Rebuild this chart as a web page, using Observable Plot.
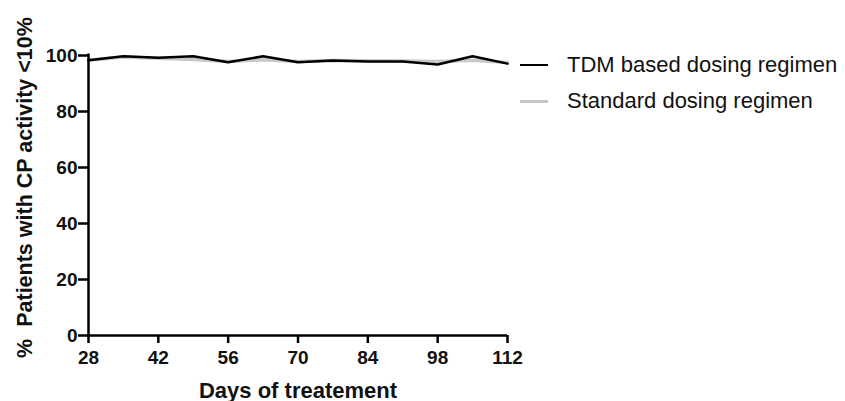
<!DOCTYPE html>
<html>
<head>
<meta charset="utf-8">
<script src="https://cdn.jsdelivr.net/npm/d3@7"></script>
<script src="https://cdn.jsdelivr.net/npm/@observablehq/plot@0.6"></script>
<style>
  html, body { margin: 0; padding: 0; background: #fff; }
  #wrap { position: relative; width: 845px; height: 401px; font-family: "Liberation Sans", Arial, sans-serif; }
  .legend { position: absolute; left: 520px; display: flex; align-items: center; font-size: 22px; color: #111; white-space: nowrap; }
  .sw { width: 28px; height: 0; margin-right: 19px; }
</style>
</head>
<body>
<div id="wrap"></div>
<script>
const days = [28, 35, 42, 49, 56, 63, 70, 77, 84, 91, 98, 105, 112];
const tdm = [98.3, 99.7, 99.2, 99.7, 97.6, 99.7, 97.6, 98.2, 97.9, 97.9, 96.8, 99.7, 97.1];
const standard = [98.3, 99.5, 99.0, 98.6, 97.9, 98.5, 97.9, 98.2, 98.1, 98.0, 97.9, 98.3, 97.5];
const seriesNames = ["TDM based dosing regimen", "Standard dosing regimen"];
const seriesColors = ["#000000", "#c8c8c8"];
const xTicks = [28, 42, 56, 70, 84, 98, 112];
const yTicks = [0, 20, 40, 60, 80, 100];

const tdmData = days.map((d, i) => ({day: d, value: tdm[i]}));
const stdData = days.map((d, i) => ({day: d, value: standard[i]}));

const chart = Plot.plot({
  width: 845,
  height: 401,
  marginLeft: 88,
  marginRight: 338,
  marginTop: 55,
  marginBottom: 66,
  style: {fontFamily: "'Liberation Sans', Arial, sans-serif", background: "#fff"},
  x: {domain: [28, 112]},
  y: {domain: [0, 100]},
  marks: [
    Plot.line(stdData, {x: "day", y: "value", stroke: seriesColors[1], strokeWidth: 3.5}),
    Plot.line(tdmData, {x: "day", y: "value", stroke: seriesColors[0], strokeWidth: 2.5}),
    Plot.ruleY([0], {x1: 28, x2: 112, stroke: "#000", strokeWidth: 2.5}),
    Plot.ruleX([28], {y1: 0, y2: 100.5, stroke: "#000", strokeWidth: 2.5}),
    Plot.axisX({ticks: xTicks, tickSize: 8, tickPadding: 7, strokeWidth: 2.5, stroke: "#000",
      fontSize: 19, fontWeight: "bold", fill: "#111", label: null}),
    Plot.axisY({ticks: yTicks, tickSize: 10, tickPadding: 1, strokeWidth: 2.5, stroke: "#000",
      fontSize: 19, fontWeight: "bold", fill: "#111", label: null}),
    Plot.text(["Days of treatement"], {frameAnchor: "bottom", lineAnchor: "middle", dy: 55, fontSize: 22, fontWeight: "bold", fill: "#111"}),
    Plot.text(["%  Patients with CP activity <10%"], {frameAnchor: "left", textAnchor: "middle", lineAnchor: "middle", rotate: -90, dx: -63, dy: -8, fontSize: 21.5, fontWeight: "bold", fill: "#111"})
  ]
});
chart.style.overflow = "visible";
const wrap = document.getElementById("wrap");
wrap.appendChild(chart);

const tops = [65, 101];
seriesNames.forEach((name, i) => {
  const item = document.createElement("div");
  item.className = "legend";
  item.style.top = (tops[i] - 13) + "px";
  item.style.height = "26px";
  const sw = document.createElement("span");
  sw.className = "sw";
  sw.style.borderTop = (i === 0 ? 2.5 : 3) + "px solid " + seriesColors[i];
  const label = document.createElement("span");
  label.textContent = name;
  item.appendChild(sw);
  item.appendChild(label);
  wrap.appendChild(item);
});
</script>
</body>
</html>
